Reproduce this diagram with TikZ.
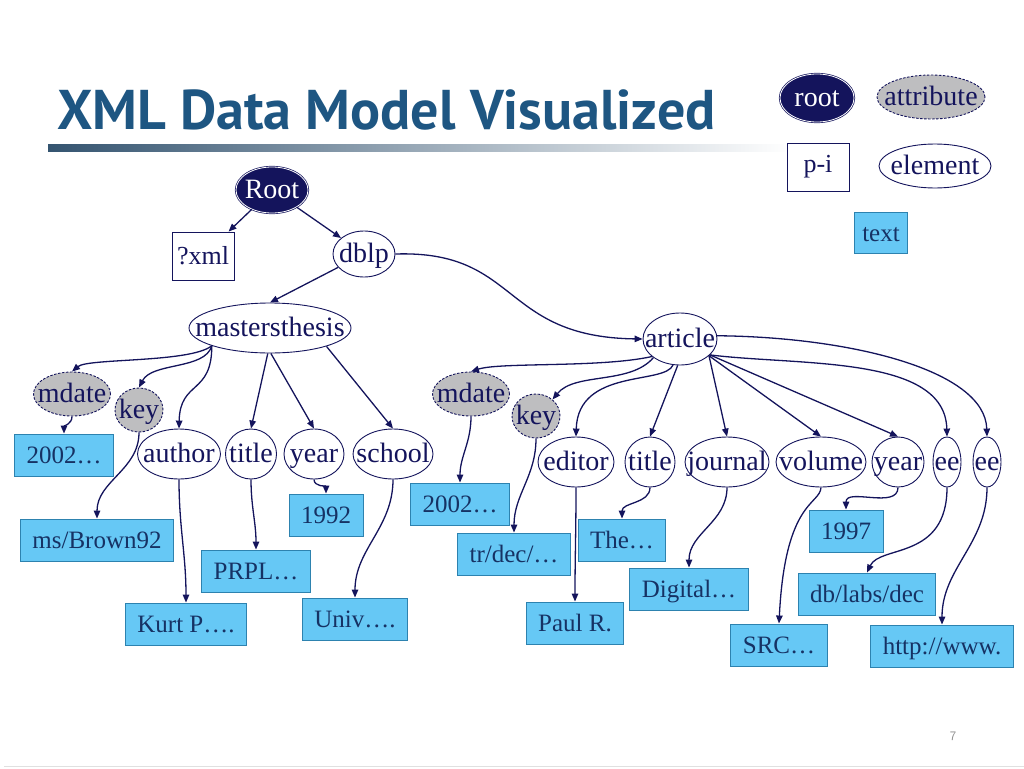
\documentclass[tikz,border=0pt]{standalone}
\usepackage{fontspec}
\setmainfont{Liberation Serif}
\newfontfamily\titlefont{PT Sans}
\usepackage{xcolor}
\usepackage{tikz}
\usetikzlibrary{positioning,arrows.meta,shapes.geometric}

\definecolor{navy}{RGB}{20,20,92}
\definecolor{attrgray}{RGB}{190,190,192}
\definecolor{boxblue}{RGB}{102,200,245}
\definecolor{boxline}{RGB}{45,130,175}
\definecolor{boxtext}{RGB}{22,50,100}
\definecolor{titleblue}{RGB}{30,86,130}
\definecolor{barcol}{RGB}{52,84,112}

\begin{document}
\begin{tikzpicture}[
  x=1pt, y=-1pt,
  elt/.style={ellipse,draw=navy,line width=0.9pt,fill=white,text=navy,inner sep=0pt,
              minimum height=50pt,font=\fontsize{28}{30}\selectfont,
              text height=21pt,text depth=4pt,
              execute at begin node={\hbox to 0pt\bgroup\hss},
              execute at end node={\hss\egroup}},
  attr/.style={elt,fill=attrgray,dash pattern=on 2.5pt off 1.5pt,minimum height=44pt},
  rootn/.style={elt,fill=navy,text=white,double=white,double distance=0.8pt,
                line width=0.7pt,minimum height=46pt},
  pinst/.style={draw=navy,line width=0.9pt,fill=white,text=navy,inner sep=0pt,
                font=\fontsize{26}{28}\selectfont,minimum height=48pt},
  txt/.style={draw=boxline,line width=0.9pt,fill=boxblue,text=boxtext,inner xsep=12pt,
              inner ysep=0pt,minimum height=42pt,font=\fontsize{25}{27}\selectfont,
              text height=18pt,text depth=2pt},
  ar/.style={-{Triangle[length=8pt,width=6.5pt]},line width=1.3pt,navy}
]
\useasboundingbox (0,0) rectangle (1024,768);

%% ---- title and rules -----------------------------------------------------
\node[anchor=base west,inner sep=0pt,text=titleblue,font=\titlefont\bfseries\fontsize{56}{58}\selectfont]
  (head) at (57,129) {XML Data Model Visualized};
\shade[left color=barcol,middle color=barcol!40,right color=white] (48,144) rectangle (790,151);
\draw[black!12,line width=1pt] (4,766) -- (1024,766);
\node[text=black!45,font=\sffamily\fontsize{13}{14}\selectfont] (pg) at (953,736) {7};

%% ---- legend ---------------------------------------------------------------
\node[rootn,minimum width=74pt,minimum height=48pt] (lgroot) at (817,98)  {root};
\node[attr, minimum width=108pt]                    (lgattr) at (931,97)  {attribute};
\node[pinst,minimum width=62pt]                     (lgpi)   at (818,167) {p-i};
\node[elt,  minimum width=112pt,minimum height=44pt](lgelt)  at (935,166) {element};
\node[txt,  inner xsep=8pt,minimum height=41pt]     (lgtext) at (881,233) {text};

%% ---- top of the tree ------------------------------------------------------
\node[rootn,minimum width=72pt] (root) at (272,190) {Root};
\node[pinst,minimum width=62pt] (xml)  at (203,256) {?xml};
\node[elt,minimum width=62pt,minimum height=46pt] (dblp) at (364,254) {dblp};
\node[elt,minimum width=162pt]  (mst)  at (270,328) {mastersthesis};
\node[elt,minimum width=74pt,minimum height=52pt] (art) at (680,339) {article};

\foreach \a/\b in {root/xml, root/dblp, dblp/mst.north} \draw[ar] (\a) -- (\b);
\draw[ar] (dblp.east) .. controls (520,250) and (500,337) .. (art.west);

%% ---- mastersthesis subtree --------------------------------------------------
\node[attr,minimum width=77pt] (mdl)  at (72,394)  {mdate};
\node[attr,minimum width=48pt] (keyl) at (139,410) {key};
\node[elt,minimum width=83pt]  (autl) at (179,454) {author};
\node[elt,minimum width=51pt]  (ttll) at (251,454) {title};
\node[elt,minimum width=60pt]  (yrl)  at (314,454) {year};
\node[elt,minimum width=80pt]  (schl) at (393,454) {school};

\node[txt] (vl2002)  at (64,455)  {2002…};
\node[txt] (vlbrown) at (97,540)  {ms/Brown92};
\node[txt] (vlkurt)  at (186,624) {Kurt P….};
\node[txt] (vlprpl)  at (256,571) {PRPL…};
\node[txt] (vl1992)  at (326,515) {1992};
\node[txt] (vluniv)  at (355,619) {Univ….};

\draw[ar] (mst.197) .. controls (190,363) and (88,358) .. (mdl.north);
\draw[ar] (mst.197) .. controls (205,370) and (152,362) .. (keyl.north);
\draw[ar] (mst.197) .. controls (212,395) and (180,380) .. (autl.north);
\foreach \a/\b in {mst.-95/ttll, mst.-88/yrl, mst.-18/schl} \draw[ar] (\a) -- (\b.north);
\foreach \a/\b in {mdl/vl2002, keyl/vlbrown, autl/vlkurt, ttll/vlprpl, yrl/vl1992, schl/vluniv}
  \draw[ar] (\a.south) to[out=-90,in=90] (\b.north);

%% ---- article subtree ------------------------------------------------------
\node[attr,minimum width=77pt] (mdr)  at (471,394) {mdate};
\node[attr,minimum width=48pt] (keyr) at (536,416) {key};
\node[elt,minimum width=76pt]  (edtr) at (576,462) {editor};
\node[elt,minimum width=50pt]  (ttlr) at (650,462) {title};
\node[elt,minimum width=84pt]  (jnlr) at (727,462) {journal};
\node[elt,minimum width=90pt]  (volr) at (821,462) {volume};
\node[elt,minimum width=52pt]  (yrr)  at (898,462) {year};
\node[elt,minimum width=28pt]  (ee1)  at (947,462) {ee};
\node[elt,minimum width=28pt]  (ee2)  at (987,462) {ee};

\node[txt] (vr2002)  at (460,504) {2002…};
\node[txt] (vrtrdec) at (514,554) {tr/dec/…};
\node[txt] (vrpaul)  at (575,623) {Paul R.};
\node[txt] (vrthe)   at (622,540) {The…};
\node[txt] (vrdig)   at (689,589) {Digital…};
\node[txt] (vrsrc)   at (779,645) {SRC…};
\node[txt] (vr1997)  at (846,531) {1997};
\node[txt] (vrdb)    at (867,594) {db/labs/dec};
\node[txt] (vrhttp)  at (942,646) {http://www.};

\draw[ar] (art.212) .. controls (600,368) and (500,362) .. (mdr.north);
\draw[ar] (art.215) .. controls (630,385) and (575,372) .. (keyr.45);
\draw[ar] (art.-105) .. controls (665,385) and (578,368) .. (edtr.north);
\foreach \a/\b in {art.-95/ttlr, art.-30/jnlr, art.-30/volr, art.-28/yrr} \draw[ar] (\a) -- (\b.north);
\draw[ar] (art.-28) .. controls (800,366) and (945,355) .. (ee1.north);
\draw[ar] (art.5) .. controls (850,337) and (985,370) .. (ee2.north);

\foreach \a/\b in {mdr/vr2002, keyr/vrtrdec, edtr/vrpaul, ttlr/vrthe, jnlr/vrdig, yrr/vr1997, ee2/vrhttp}
  \draw[ar] (\a.south) to[out=-90,in=90] (\b.north);
\draw[ar] (volr.south) .. controls (820,505) and (785,500) .. (vrsrc.north);
\draw[ar] (ee1.south) .. controls (947,560) and (880,545) .. (vrdb.north);
\end{tikzpicture}
\end{document}
